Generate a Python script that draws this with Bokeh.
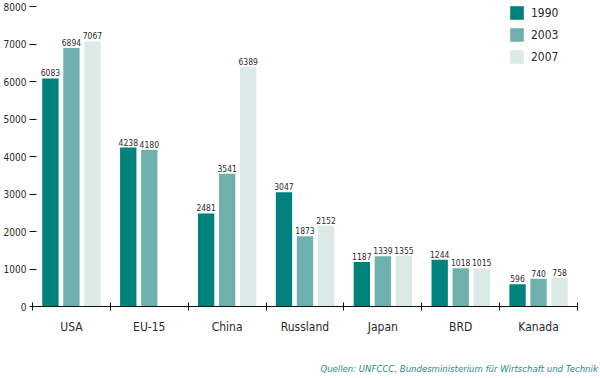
from bokeh.plotting import figure
from bokeh.models import (ColumnDataSource, FixedTicker, Range1d, Legend, LegendItem,
                          LinearAxis)
from bokeh.core.properties import value
from bokeh.embed import file_html
from bokeh.resources import INLINE

categories = ["USA", "EU-15", "China", "Russland", "Japan", "BRD", "Kanada"]
years = ["1990", "2003", "2007"]
v1990 = [6083, 4238, 2481, 3047, 1187, 1244, 596]
v2003 = [6894, 4180, 3541, 1873, 1339, 1018, 740]
v2007 = [7067, None, 6389, 2152, 1355, 1015, 758]
y_ticks = [0, 1000, 2000, 3000, 4000, 5000, 6000, 7000, 8000]
source_note = "Quellen: UNFCCC, Bundesministerium für Wirtschaft und Technik"

colors = ["#00827c", "#6fb0ae", "#dbe9e7"]
offsets = [-0.27, 0.0, 0.27]
bar_width = 0.21
FONT = "DejaVu Sans Condensed"
TXT = "#2a2a2a"

p = figure(width=600, height=378, output_backend="svg", toolbar_location=None,
           x_range=Range1d(0, len(categories)), y_range=Range1d(0, 8000),
           min_border_left=30, min_border_right=23, min_border_top=6,
           min_border_bottom=72)
p.outline_line_color = None
p.grid.visible = False
p.background_fill_color = "white"
p.border_fill_color = "white"

items = []
for series, col, off, yr in zip([v1990, v2003, v2007], colors, offsets, years):
    xs, ys, labels = [], [], []
    for i, v in enumerate(series):
        if v is None:
            continue
        xs.append(i + 0.5 + off)
        ys.append(v)
        labels.append(str(v))
    src = ColumnDataSource(dict(x=xs, top=ys, label=labels))
    r = p.vbar(x="x", top="top", width=bar_width, bottom=0, source=src,
               fill_color=col, line_color=None)
    p.text(x="x", y="top", text="label", source=src, text_align="center",
           text_baseline="bottom", y_offset=-2, text_font=value(FONT),
           text_font_size="8.5px", text_color=TXT)
    items.append(LegendItem(label=yr, renderers=[r]))

legend = Legend(items=items, location=(476, 241), border_line_color=None,
                background_fill_alpha=0, padding=0, margin=0, spacing=5,
                glyph_width=17, glyph_height=17, label_height=17,
                label_standoff=6, label_text_font=FONT,
                label_text_font_size="12px", label_text_color=TXT)
p.add_layout(legend)

# y axis
ya = p.yaxis[0]
ya.ticker = FixedTicker(ticks=y_ticks, minor_ticks=[])
ya.axis_line_color = None
ya.major_tick_in = 4
ya.major_tick_out = 3
ya.minor_tick_in = 0
ya.minor_tick_out = 0
ya.major_tick_line_color = "#111111"
ya.major_label_standoff = 3
ya.major_label_text_font = FONT
ya.major_label_text_font_size = "10px"
ya.major_label_text_color = TXT

# x axis
xa = p.xaxis[0]
xa.ticker = FixedTicker(ticks=[i + 0.5 for i in range(len(categories))],
                        minor_ticks=list(range(len(categories) + 1)))
xa.major_label_overrides = {i + 0.5: c for i, c in enumerate(categories)}
xa.major_tick_in = 0
xa.major_tick_out = 0
xa.minor_tick_in = 4
xa.minor_tick_out = 4
xa.minor_tick_line_color = "#111111"
xa.axis_line_color = "#111111"
xa.major_label_standoff = 9
xa.major_label_text_font = FONT
xa.major_label_text_font_size = "12px"
xa.major_label_text_color = TXT

# source note as an extra, line-less axis below the category axis
note_pos = 5.48
note_axis = LinearAxis(ticker=FixedTicker(ticks=[note_pos], minor_ticks=[]),
                       major_label_overrides={note_pos: source_note},
                       axis_line_color=None, major_tick_line_color=None,
                       minor_tick_line_color=None, major_tick_in=0, major_tick_out=0,
                       minor_tick_in=0, minor_tick_out=0,
                       major_label_standoff=26,
                       major_label_text_font=FONT,
                       major_label_text_font_style="italic",
                       major_label_text_font_size="9.5px",
                       major_label_text_color="#1f8c86")
p.add_layout(note_axis, "below")

open("out.html", "w").write(file_html(p, INLINE))
